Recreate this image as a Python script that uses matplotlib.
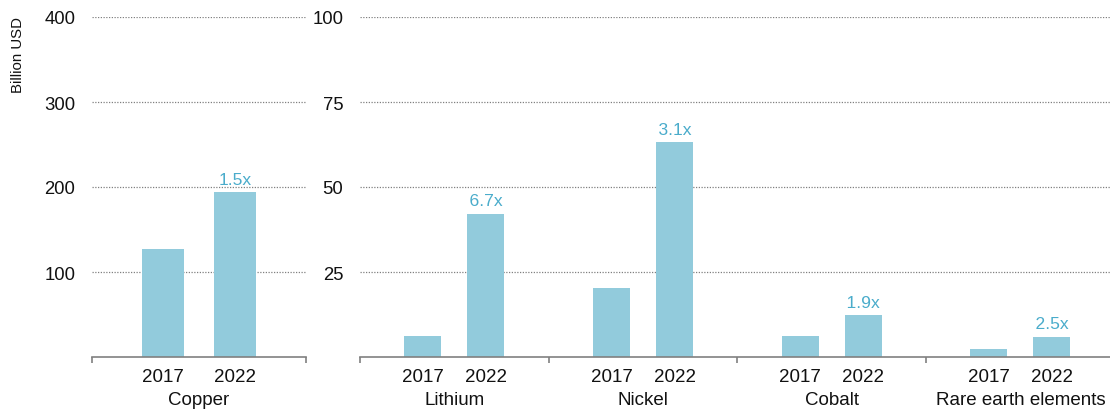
import matplotlib.pyplot as plt
from matplotlib.ticker import FixedLocator

plt.rcParams['font.family'] = ['Liberation Sans', 'DejaVu Sans']

# data (billion USD)
years = ["2017", "2022"]
copper = [127, 194]
metals = ["Lithium", "Nickel", "Cobalt", "Rare earth elements"]
val_2017 = [6.3, 20.3, 6.3, 2.3]
val_2022 = [42.2, 63.3, 12.4, 6.0]
copper_growth = "1.5x"
growth = ["6.7x", "3.1x", "1.9x", "2.5x"]

bar_color = "#92cbdc"
lbl_color = "#4aaccb"
grid_color = "#808080"
axis_color = "#808080"
txt_color = "#111111"
W, H = 1110, 410

fig = plt.figure(figsize=(W / 100, H / 100), dpi=100)
ax1 = fig.add_axes([92 / W, 52 / H, 214 / W, 340 / H])
ax2 = fig.add_axes([360 / W, 52 / H, 750 / W, 340 / H])

off = 0.167
bw = 0.196


def style(ax, ymax, ticks):
    ax.set_ylim(0, ymax)
    ax.set_yticks(ticks)
    ax.yaxis.grid(True, color=grid_color, linestyle=(0, (1, 1.2)), linewidth=0.9, zorder=0)
    ax.set_axisbelow(True)
    for s in ["top", "right", "left"]:
        ax.spines[s].set_visible(False)
    ax.spines["bottom"].set_color(axis_color)
    ax.spines["bottom"].set_linewidth(1.2)
    ax.tick_params(axis="y", length=0, pad=12, labelsize=13.3, labelcolor=txt_color)
    ax.tick_params(axis="x", which="major", length=0, pad=8, labelsize=13.5, labelcolor=txt_color)
    ax.tick_params(axis="x", which="minor", length=4, color=axis_color, width=1.2, direction="out")


# Copper panel
ax1.bar([-off, off], copper, width=bw, color=bar_color, zorder=2)
ax1.set_xlim(-0.5, 0.5)
style(ax1, 400, [100, 200, 300, 400])
ax1.set_xticks([-off, off])
ax1.set_xticklabels(years)
ax1.xaxis.set_minor_locator(FixedLocator([-0.5, 0.5]))
ax1.text(0, -0.1, "Copper", transform=ax1.get_xaxis_transform(), ha="center", va="top",
         fontsize=13.5, color=txt_color)
ax1.text(off, copper[1] + 6, copper_growth, ha="center", va="bottom", fontsize=12.6,
         color=lbl_color, zorder=1)
fig.text(18 / W, 1 - 17 / H, "Billion USD", rotation=90, ha="center", va="top",
         fontsize=10.8, color=txt_color)

# other metals panel
xs = list(range(len(metals)))
ax2.bar([x - off for x in xs], val_2017, width=bw, color=bar_color, zorder=2)
ax2.bar([x + off for x in xs], val_2022, width=bw, color=bar_color, zorder=2)
ax2.set_xlim(-0.5, 3.475)
style(ax2, 100, [25, 50, 75, 100])
pos = []
for x in xs:
    pos += [x - off, x + off]
ax2.set_xticks(pos)
ax2.set_xticklabels(years * len(metals))
ax2.xaxis.set_minor_locator(FixedLocator([-0.5, 0.5, 1.5, 2.5]))
for x, name, v, g in zip(xs, metals, val_2022, growth):
    ax2.text(x, -0.1, name, transform=ax2.get_xaxis_transform(), ha="center", va="top",
             fontsize=13.5, color=txt_color)
    ax2.text(x + off, v + 1.5, "    " + g + "    ", ha="center", va="bottom", fontsize=12.6,
             color=lbl_color, zorder=1,
             bbox=dict(facecolor="white", edgecolor="none", boxstyle="square,pad=0.05"))

plt.savefig("out.png", dpi=100)
